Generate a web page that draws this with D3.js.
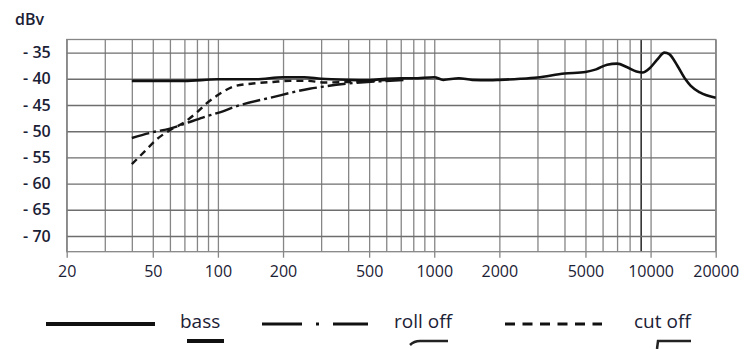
<!DOCTYPE html>
<html>
<head>
<meta charset="utf-8">
<script src="https://cdn.jsdelivr.net/npm/d3@7.9.0/dist/d3.min.js"></script>
<style>
  body { margin: 0; background: #fff; }
  svg { display: block; }
  text { font-family: "Open Sans", "Liberation Sans", sans-serif; fill: #1b2135; }
</style>
</head>
<body>
<svg width="747" height="349"></svg>
<script>
// frequency response data (Hz, dBv)
const flatFreq = [40, 50, 70, 100, 150, 200, 250, 300, 400, 500, 600, 700, 800, 1000, 1100, 1300, 1500, 1800, 2000, 2500, 3000, 4000, 5000, 5600, 6300, 7000, 7800, 8600, 9200, 9900, 10700, 11600, 12200, 13300, 14500, 15300, 16900, 20000];
const flatDb = [-40.4, -40.4, -40.4, -40.1, -40.1, -39.7, -39.7, -40.0, -40.2, -40.25, -40.0, -39.9, -39.9, -39.7, -40.2, -39.9, -40.2, -40.25, -40.2, -40.0, -39.75, -39.0, -38.7, -38.2, -37.3, -37.1, -37.8, -38.6, -38.8, -38.0, -36.4, -35.0, -35.3, -37.5, -40.1, -41.3, -42.6, -43.6];

const rollFreq = [40, 50, 60, 70, 85, 100, 127, 175, 265, 307, 380, 490, 625, 750];
const rollDb = [-51.3, -50.2, -49.5, -48.6, -47.4, -46.5, -45.0, -43.6, -41.9, -41.5, -41.0, -40.6, -40.4, -40.2];

const cutFreq = [40, 46, 52, 60, 70, 80, 88, 100, 120, 145, 180, 215, 260, 310, 400, 500, 700];
const cutDb = [-56.3, -53.8, -51.6, -49.8, -48.3, -46.4, -44.8, -43.1, -41.4, -40.9, -40.6, -40.4, -40.4, -40.7, -40.6, -40.4, -40.1];

const yTicks = [-35, -40, -45, -50, -55, -60, -65, -70];
const xLabels = [20, 50, 100, 200, 500, 1000, 2000, 5000, 10000, 20000];
const xGrid = [20, 30, 40, 50, 60, 70, 80, 90, 100, 200, 300, 400, 500, 600, 700, 800, 900,
  1000, 2000, 3000, 4000, 5000, 6000, 7000, 8000, 9000, 10000, 20000];
const legendNames = ["bass", "roll off", "cut off"];

const svg = d3.select("svg");
const x = d3.scaleLog().domain([20, 20000]).range([66.7, 715.7]);
const y = d3.scaleLinear().domain([-73, -32.5]).range([251.7, 39.5]);
const w = x.range()[1] - x.range()[0];
const h = y.range()[0] - y.range()[1];

// vertical grid
const gx = svg.append("g").attr("transform", `translate(0,${y(-73)})`)
  .call(d3.axisBottom(x).tickValues(xGrid).tickSize(-h).tickFormat(""));
gx.select(".domain").remove();
gx.selectAll(".tick line")
  .attr("stroke", d => d === 9000 ? "#333" : "#868686")
  .attr("stroke-width", d => d === 9000 ? 1.6 : 1.3);

// x labels with short ticks
const gl = svg.append("g").attr("transform", `translate(0,${y(-73)})`)
  .call(d3.axisBottom(x).tickValues(xLabels).tickSize(6).tickPadding(8).tickFormat(d3.format("d")));
gl.select(".domain").remove();
gl.selectAll(".tick line").attr("stroke", "#868686").attr("stroke-width", 1.3);
gl.selectAll("text").attr("font-size", 16).attr("fill", "#1b2135");

// horizontal grid and y labels
const gy = svg.append("g").attr("transform", `translate(${x(20)},0)`)
  .call(d3.axisLeft(y).tickValues(yTicks).tickSize(-w).tickPadding(16)
    .tickFormat(d => "- " + Math.abs(d)));
gy.select(".domain").remove();
gy.selectAll(".tick line").attr("stroke", "#6e6e6e").attr("stroke-width", 1.4);
gy.selectAll("text").attr("font-size", 16).attr("font-weight", 600).attr("fill", "#1b2135");

// frame
svg.append("rect")
  .attr("x", x(20)).attr("y", y(-32.5))
  .attr("width", w).attr("height", h)
  .attr("fill", "none").attr("stroke", "#868686").attr("stroke-width", 1.3);

svg.append("text").attr("x", 15).attr("y", 25)
  .attr("font-size", 16).attr("font-weight", 600).text("dBv");

// curves
const line = d3.line()
  .x(d => x(d[0])).y(d => y(d[1]))
  .curve(d3.curveMonotoneX);

svg.append("path")
  .attr("d", line(d3.zip(cutFreq, cutDb)))
  .attr("fill", "none").attr("stroke", "#161616").attr("stroke-width", 2.4)
  .attr("stroke-dasharray", "7,5");

svg.append("path")
  .attr("d", line(d3.zip(rollFreq, rollDb)))
  .attr("fill", "none").attr("stroke", "#161616").attr("stroke-width", 2.4)
  .attr("stroke-dasharray", "18,4,3,4");

svg.append("path")
  .attr("d", line(d3.zip(flatFreq, flatDb)))
  .attr("fill", "none").attr("stroke", "#111").attr("stroke-width", 2.6);

// legend
const lg = svg.append("g");
lg.append("line").attr("x1", 46).attr("x2", 155).attr("y1", 324).attr("y2", 324)
  .attr("stroke", "#111").attr("stroke-width", 4);
lg.append("line").attr("x1", 262).attr("x2", 368).attr("y1", 324).attr("y2", 324)
  .attr("stroke", "#111").attr("stroke-width", 3)
  .attr("stroke-dasharray", "40,14,3,14,40");
lg.append("line").attr("x1", 505).attr("x2", 602).attr("y1", 324).attr("y2", 324)
  .attr("stroke", "#111").attr("stroke-width", 3)
  .attr("stroke-dasharray", "10,7.5");

const labelX = [180, 394, 634];
lg.selectAll("text.name").data(legendNames).join("text")
  .attr("class", "name")
  .attr("x", (d, i) => labelX[i]).attr("y", 328)
  .attr("font-size", 19).text(d => d);

// small response icons under legend names
lg.append("line").attr("x1", 187).attr("x2", 224).attr("y1", 341).attr("y2", 341)
  .attr("stroke", "#111").attr("stroke-width", 4);
lg.append("path").attr("d", "M410,345 Q414,341 420,341 L448,341")
  .attr("fill", "none").attr("stroke", "#222").attr("stroke-width", 2.5);
lg.append("path").attr("d", "M657,349 L658,341 L691,341")
  .attr("fill", "none").attr("stroke", "#222").attr("stroke-width", 2.5);
</script>
</body>
</html>
